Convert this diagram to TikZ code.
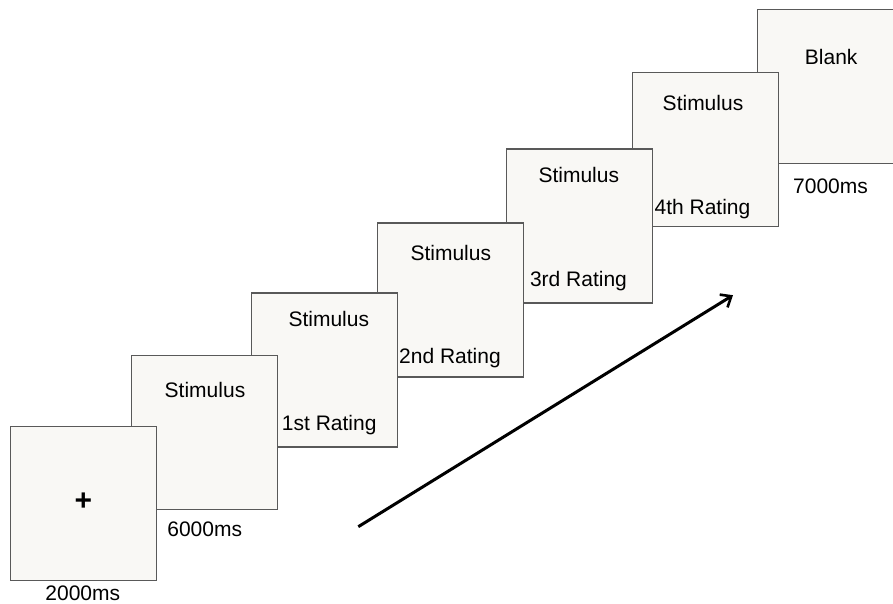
\documentclass[tikz,border=0pt]{standalone}
\usepackage{fontspec}
\setmainfont{Liberation Sans}
\usetikzlibrary{arrows.meta}
\begin{document}
\begin{tikzpicture}[x=1pt,y=-1pt,
  screen/.style={draw=black!65,line width=1.2pt,fill=screenfill,minimum width=146pt,minimum height=154pt,inner sep=0pt},
  lbl/.style={font=\fontsize{21}{25}\selectfont,anchor=base,inner sep=0pt,text=black}]
\definecolor{screenfill}{HTML}{F9F8F5}
\useasboundingbox (0,0) rectangle (893,603);
% screens, back to front
\node[screen] (b7) at (830.7,86.3) {};
\node[screen] (b6) at (705.7,149.2) {};
\node[screen] (b5) at (579.2,226) {};
\node[screen] (b4) at (450.5,300) {};
\node[screen] (b3) at (324.2,370) {};
\node[screen] (b2) at (204.6,432.2) {};
\node[screen] (b1) at (83.5,503.8) {};
% labels
\node[font=\bfseries\fontsize{30}{34}\selectfont,anchor=center,inner sep=0pt] (plus) at (83.3,501.5) {+};
\node[lbl] (t1) at (82.8,600) {2000ms};
\node[lbl] (s2) at (205,397) {Stimulus};
\node[lbl] (t2) at (204.7,536) {6000ms};
\node[lbl] (s3) at (328.8,326.7) {Stimulus};
\node[lbl] (r1) at (329.2,430) {1st Rating};
\node[lbl] (s4) at (450.8,260) {Stimulus};
\node[lbl] (r2) at (450,363.3) {2nd Rating};
\node[lbl] (s5) at (578.8,182.3) {Stimulus};
\node[lbl] (r3) at (578.5,286.7) {3rd Rating};
\node[lbl] (s6) at (703,110.7) {Stimulus};
\node[lbl] (r4) at (702.5,214) {4th Rating};
\node[lbl] (s7) at (831.2,64) {Blank};
\node[lbl] (t7) at (830.5,193.3) {7000ms};
% time arrow
\coordinate (a0) at (358.3,526.7);
\coordinate (a1) at (733,295.2);
\draw[line width=3pt,-{Straight Barb[length=9pt,width=15pt,line width=2.6pt]}] (a0) -- (a1);
\end{tikzpicture}
\end{document}
